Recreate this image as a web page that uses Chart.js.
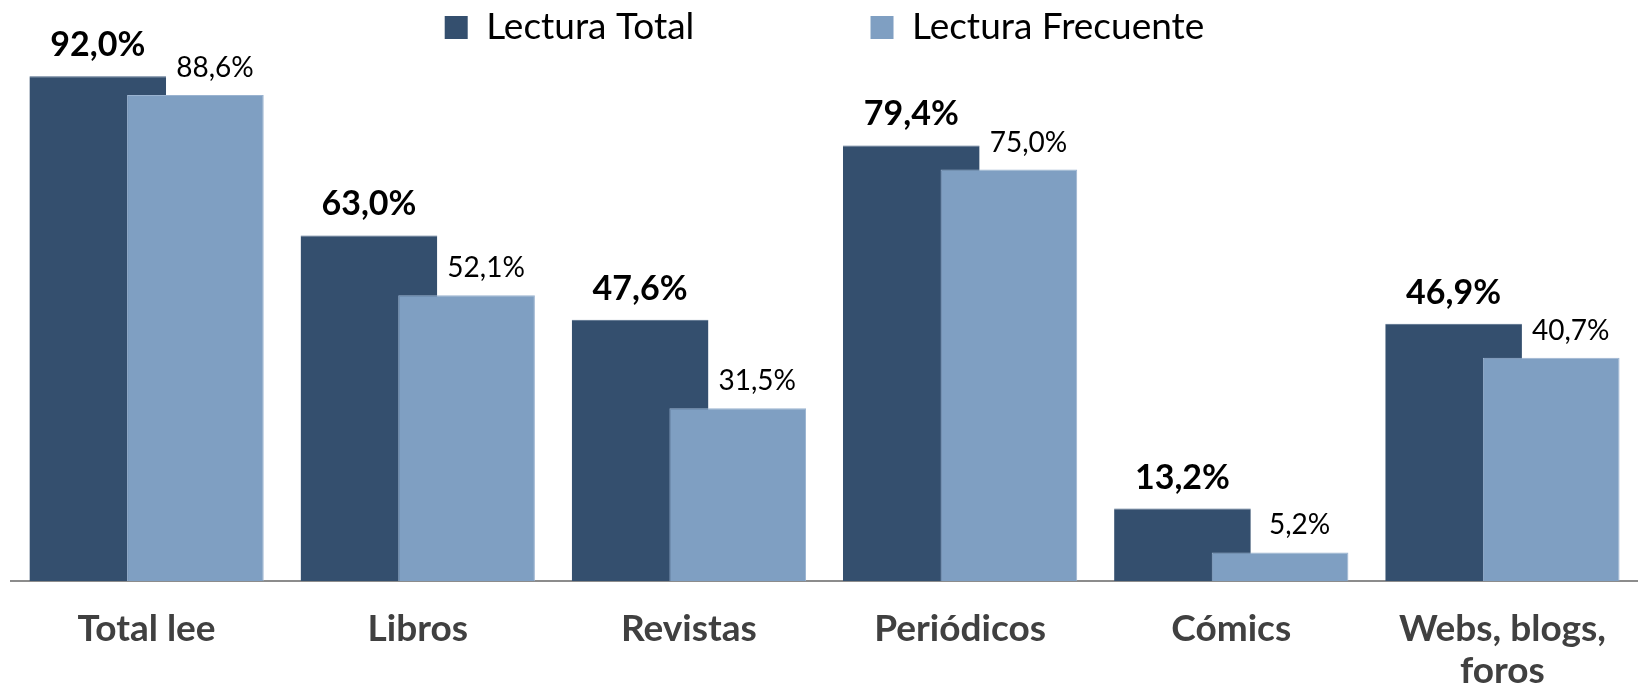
<!DOCTYPE html>
<html>
<head>
<meta charset="utf-8">
<script src="https://cdn.jsdelivr.net/npm/chart.js@4"></script>
<style>
	html, body { margin: 0; padding: 0; background: #fff; overflow: hidden; }
	#wrap { width: 1638px; height: 684px; position: relative; }
</style>
</head>
<body>
<div id="wrap"><canvas id="lectura-chart"></canvas></div>
<script>
var categories = [ 'Total lee', 'Libros', 'Revistas', 'Periódicos', 'Cómics', [ 'Webs, blogs,', 'foros' ] ];
var seriesNames = [ 'Lectura Total', 'Lectura Frecuente' ];
var lecturaTotal = [ 92.0, 63.0, 47.6, 79.4, 13.2, 46.9 ];
var lecturaFrecuente = [ 88.6, 52.1, 31.5, 75.0, 5.2, 40.7 ];

( function () {
	'use strict';

	var dark = '#344F6E';
	var light = '#7F9FC2';
	var family = 'Lato, "Open Sans", sans-serif';

	function fmt( v ) {
		return v.toFixed( 1 ).replace( '.', ',' ) + '%';
	}

	// Chart.js paints the first dataset last; here the light bars must overlap the dark ones,
	// so dataset 1 is skipped in the normal pass and painted afterwards, then the value labels.
	var overlapAndLabels = {
		id: 'overlapAndLabels',
		beforeDatasetDraw: function ( chart, args ) {
			if ( args.index === 1 ) {
				return false;
			}
		},
		afterDatasetsDraw: function ( chart ) {
			var ctx = chart.ctx;
			var darkBars = chart.getDatasetMeta( 0 ).data;
			var lightMeta = chart.getDatasetMeta( 1 );
			lightMeta.controller.draw();

			ctx.save();
			ctx.textAlign = 'center';
			ctx.textBaseline = 'alphabetic';
			ctx.fillStyle = '#000';
			darkBars.forEach( function ( bar, i ) {
				ctx.font = 'bold 34px ' + family;
				ctx.fillText( fmt( lecturaTotal[ i ] ), bar.x, bar.y - 20 );
				var lb = lightMeta.data[ i ];
				var left = bar.x + bar.width / 2;
				var right = lb.x + lb.width / 2;
				ctx.font = '28px ' + family;
				ctx.fillText( fmt( lecturaFrecuente[ i ] ), ( left + right ) / 2, lb.y - 18 );
			} );
			ctx.restore();
		},
	};

	var el = document.getElementById( 'lectura-chart' );
	new Chart( el.getContext( '2d' ), {
		type: 'bar',
		data: {
			labels: categories,
			datasets: [ {
				label: seriesNames[ 0 ],
				data: lecturaTotal,
				backgroundColor: dark,
				borderColor: '#4A6484',
				borderWidth: { top: 1, left: 0, right: 0, bottom: 0 },
				categoryPercentage: 0.72,
				barPercentage: 1.4,
			}, {
				label: seriesNames[ 1 ],
				data: lecturaFrecuente,
				backgroundColor: light,
				borderColor: '#9AB3D0',
				borderWidth: { top: 1, left: 1, right: 1, bottom: 0 },
				categoryPercentage: 0.72,
				barPercentage: 1.4,
			} ],
		},
		options: {
			responsive: true,
			maintainAspectRatio: false,
			animation: false,
			layout: { padding: { left: 11, right: 0, top: 0, bottom: 0 } },
			plugins: {
				tooltip: { enabled: false },
				legend: {
					position: 'top',
					labels: {
						font: { size: 37, family: family },
						color: '#000',
						boxWidth: 23,
						boxHeight: 23,
						padding: 9,
						generateLabels: function ( chart ) {
							var items = Chart.defaults.plugins.legend.labels.generateLabels( chart );
							items.forEach( function ( item ) {
								item.lineWidth = 0;
							} );
							items[ 0 ].text += '\u2003\u2003\u2003\u2003\u2003   ';
							return items;
						},
					},
				},
			},
			scales: {
				x: {
					grid: { display: false, drawTicks: false },
					border: { display: true, color: '#8c8c8c', width: 2 },
					ticks: {
						font: { size: 37, weight: 'bold', family: family, lineHeight: 1.11 },
						color: '#404040',
						padding: 28,
						maxRotation: 0,
						autoSkip: false,
					},
					afterFit: function ( scale ) {
						scale.height = 103;
					},
				},
				y: { display: false, min: 0, max: 95.7 },
			},
		},
		plugins: [ overlapAndLabels ],
	} );
} )();
</script>
</body>
</html>
